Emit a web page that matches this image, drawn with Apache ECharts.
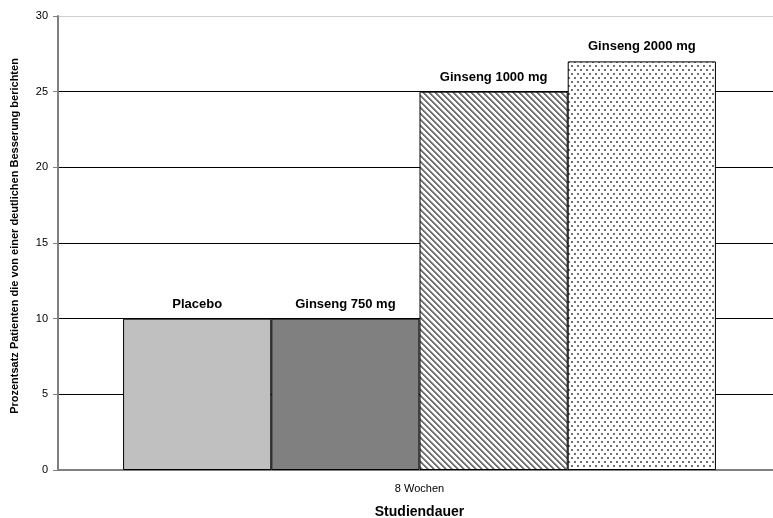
<!DOCTYPE html>
<html>
<head>
<meta charset="utf-8">
<script src="https://cdn.jsdelivr.net/npm/echarts@6/dist/echarts.min.js"></script>
<style>html,body{margin:0;padding:0;background:#fff;overflow:hidden}#c{width:773px;height:518px}</style>
</head>
<body>
<div id="c"></div>
<script>
var categories = ['8 Wochen'];
var seriesNames = ['Placebo', 'Ginseng 750 mg', 'Ginseng 1000 mg', 'Ginseng 2000 mg'];
var seriesValues = [[10], [10], [25], [27]];
var yTicks = [0, 5, 10, 15, 20, 25, 30];

function stripePattern() {
  var n = 6;
  var c = document.createElement('canvas');
  c.width = n; c.height = n;
  var g = c.getContext('2d');
  g.fillStyle = '#fff'; g.fillRect(0, 0, n, n);
  for (var i = 0; i < n; i++) {
    g.fillStyle = '#707070';
    g.fillRect(i, i, 1, 1);
    g.fillRect((i + 1) % n, i, 1, 1);
    g.fillStyle = '#b0b0b0';
    g.fillRect((i + 2) % n, i, 1, 1);
  }
  return c;
}
function dotPattern() {
  var c = document.createElement('canvas');
  c.width = 6; c.height = 8;
  var g = c.getContext('2d');
  g.fillStyle = '#fff'; g.fillRect(0, 0, 6, 8);
  g.fillStyle = '#707070';
  g.fillRect(1, 1, 2, 2);
  g.fillRect(4, 5, 2, 2);
  return c;
}
var fills = ['#c0c0c0', '#808080', { image: stripePattern(), repeat: 'repeat' }, { image: dotPattern(), repeat: 'repeat' }];

var font = '"Liberation Sans", Arial, sans-serif';
var chart = echarts.init(document.getElementById('c'));
chart.setOption({
  animation: false,
  textStyle: { fontFamily: font },
  grid: { left: 58, width: 723, top: 16, bottom: 48, outerBoundsMode: 'none', containLabel: false },
  xAxis: {
    type: 'category',
    data: categories,
    name: 'Studiendauer',
    nameLocation: 'middle',
    nameGap: 35,
    nameTextStyle: { fontFamily: font, fontWeight: 'bold', fontSize: 14, color: '#000' },
    axisLine: { lineStyle: { color: '#808080', width: 2 } },
    axisTick: { show: false },
    axisLabel: { color: '#000', fontSize: 11, margin: 13, fontFamily: font }
  },
  yAxis: {
    type: 'value',
    min: yTicks[0], max: yTicks[yTicks.length - 1], interval: 5,
    name: 'Prozentsatz Patienten die von einer deutlichen Besserung berichten',
    nameLocation: 'middle',
    nameGap: 38,
    nameTextStyle: { fontFamily: font, fontWeight: 'bold', fontSize: 11, color: '#000', padding: [0, 0, 0, 14] },
    axisLine: { show: true, lineStyle: { color: '#808080', width: 2 } },
    axisTick: { show: true, length: 5, lineStyle: { color: '#808080' } },
    axisLabel: { color: '#000', fontSize: 11, margin: 10, fontFamily: font },
    splitLine: { show: true, lineStyle: { color: ['#000', '#000', '#000', '#000', '#000', '#000', '#d0d0d0'], width: 1 } }
  },
  series: seriesNames.map(function (n, i) {
    return {
      name: n,
      type: 'bar',
      data: seriesValues[i],
      barGap: '0%',
      barCategoryGap: '18%',
      itemStyle: { color: fills[i], borderColor: '#000', borderWidth: 1 },
      label: {
        show: true, position: 'top', distance: 8,
        formatter: n, fontWeight: 'bold', fontSize: 13, color: '#000', fontFamily: font
      }
    };
  })
});
</script>
</body>
</html>
